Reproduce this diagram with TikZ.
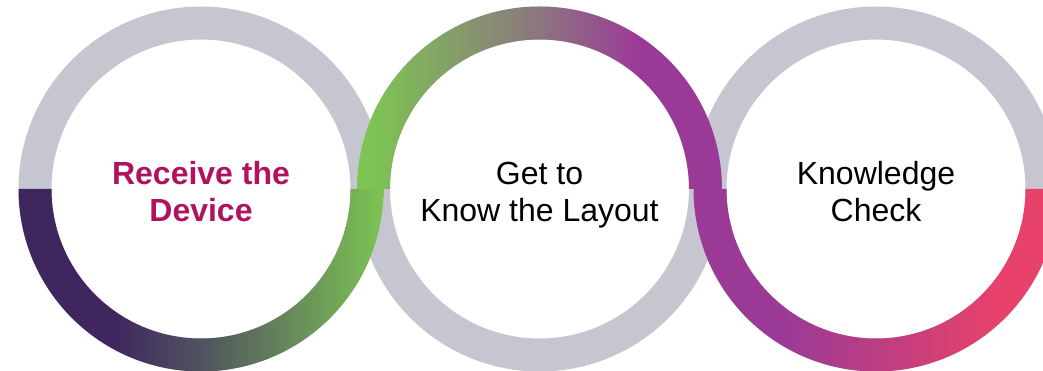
\documentclass[tikz,border=0pt]{standalone}
\usepackage{fontspec}
\setmainfont{Liberation Sans}
\definecolor{ringgray}{HTML}{C5C6D0}
\definecolor{dpurple}{HTML}{40265F}
\definecolor{midgray}{HTML}{52575F}
\definecolor{lgreen}{HTML}{7DC453}
\definecolor{mauve}{HTML}{8C7580}
\definecolor{purp}{HTML}{9B3A96}
\definecolor{pinkred}{HTML}{E8426A}
\definecolor{magtext}{HTML}{B0125F}
% TikZ maps the middle 50bp (25bp..75bp) of a shading onto the path's bounding box
\pgfdeclarehorizontalshading{gradA}{100bp}{color(0bp)=(dpurple); color(38bp)=(dpurple); color(51bp)=(midgray); color(75bp)=(lgreen); color(100bp)=(lgreen)}
\pgfdeclarehorizontalshading{gradB}{100bp}{color(0bp)=(lgreen); color(27bp)=(lgreen); color(50bp)=(mauve); color(63.5bp)=(purp); color(100bp)=(purp)}
\pgfdeclarehorizontalshading{gradC}{100bp}{color(0bp)=(purp); color(37.5bp)=(purp); color(67bp)=(pinkred); color(100bp)=(pinkred)}
\tikzset{
  ring/.style={fill=ringgray, even odd rule},
  label/.style={align=center, font=\fontsize{24}{27.75}\selectfont, text=black},
}
\begin{document}
\begin{tikzpicture}[x=0.75pt,y=0.75pt]
\useasboundingbox (0,0) rectangle (1043,371);
\coordinate (c1) at (201,182);
\coordinate (c2) at (539.5,182);
\coordinate (c3) at (876,182);
% gray rings
\fill[ring] (c1) circle[radius=182.5] (c1) circle[radius=149.5];
\fill[ring] (c2) circle[radius=182.5] (c2) circle[radius=149.5];
\fill[ring] (c3) circle[radius=182.5] (c3) circle[radius=149.5];
% coloured halves
\shade[shading=gradA] ([xshift=-182.5*0.75pt]c1) arc[start angle=180,end angle=360,radius=182.5] -- ++(-33,0) arc[start angle=360,end angle=180,radius=149.5] -- cycle;
\shade[shading=gradB] ([xshift=-182.5*0.75pt]c2) arc[start angle=180,end angle=0,radius=182.5] -- ++(-33,0) arc[start angle=0,end angle=180,radius=149.5] -- cycle;
\shade[shading=gradC] ([xshift=-182.5*0.75pt]c3) arc[start angle=180,end angle=360,radius=182.5] -- ++(-33,0) arc[start angle=360,end angle=180,radius=149.5] -- cycle;
% labels
\node[label, text=magtext, font=\fontsize{24}{27.75}\selectfont\bfseries] (t1) at ([yshift=-5.25pt]c1) {Receive the\strut\\Device\strut};
\node[label] (t2) at ([yshift=-5.25pt]c2) {Get to\strut\\Know the Layout\strut};
\node[label] (t3) at ([yshift=-5.25pt]c3) {Knowledge\strut\\Check\strut};
\end{tikzpicture}
\end{document}
